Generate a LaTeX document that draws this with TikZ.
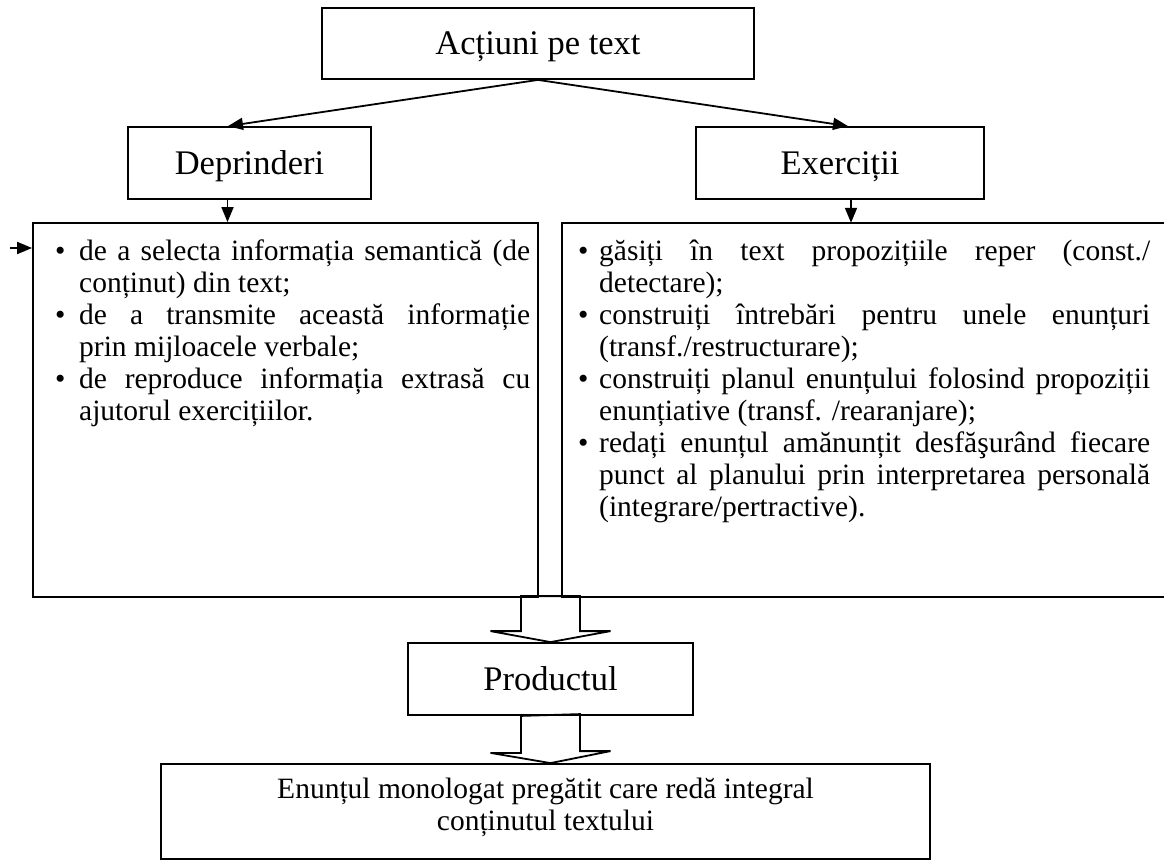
\documentclass[tikz,border=0pt]{standalone}
\usepackage{fontspec}
\setmainfont{Liberation Serif}
\usetikzlibrary{arrows.meta,calc}

% bulleted list with the bullet flush left in its label box
\newenvironment{bulletlist}[1]{%
  \begin{list}{\textbullet}{%
    \setlength{\leftmargin}{#1}\setlength{\labelwidth}{#1}%
    \setlength{\labelsep}{0pt}\setlength{\itemindent}{0pt}%
    \setlength{\itemsep}{0pt}\setlength{\parsep}{0pt}%
    \setlength{\topsep}{0pt}\setlength{\partopsep}{0pt}%
    \renewcommand{\makelabel}[1]{##1\hfil}}}%
  {\end{list}}

\hbadness=10000
\begin{document}
\begin{tikzpicture}[x=1pt,y=-1pt,
  box/.style={draw,line width=1.8pt,inner sep=0pt},
  headtext/.style={font=\fontsize{34.5}{40}\selectfont,text height=26pt,text depth=3pt},
  bodytext/.style={font=\fontsize{29.5}{32}\selectfont},
  conn/.style={line width=1.8pt,-{Triangle[length=15pt,width=12pt]}},
  blockarrow/.style={line width=1.8pt,line join=miter}]
\useasboundingbox (0,0) rectangle (1164,861);
\fill[white] (0,0) rectangle (1164,861);

% header boxes
\node[box,headtext,minimum width=432pt,minimum height=71pt] (actiuni) at (538,43.5) {Acțiuni pe text};
\node[box,headtext,minimum width=243pt,minimum height=72pt] (dep) at (249.5,163) {Deprinderi};
\node[box,headtext,minimum width=288pt,minimum height=72pt] (ex) at (840,163) {Exerciții};

% content frames
\node[box,minimum width=505pt,minimum height=374pt] (lbox) at (285.5,410) {};
\node[inner sep=0pt,minimum width=602pt,minimum height=374pt] (rbox) at (863,410) {};
\draw[line width=1.8pt] (rbox.north east) -- (rbox.north west) -- (rbox.south west) -- (rbox.south east);

% list texts
\node[inner sep=0pt,anchor=base west,bodytext] (ltext) at (55,260) {%
\begin{minipage}[t]{475pt}
\begin{bulletlist}{24pt}
\item de a selecta informația semantică (de\linebreak conținut) din text;
\item de a transmite această informație\linebreak prin mijloacele verbale;
\item de reproduce informația extrasă cu\linebreak ajutorul exercițiilor.
\end{bulletlist}
\end{minipage}};

\node[inner sep=0pt,anchor=base west,bodytext] (rtext) at (578,260) {%
\begin{minipage}[t]{572pt}
\begin{bulletlist}{21pt}
\item găsiți în text propozițiile reper (const./\linebreak detectare);
\item construiți întrebări pentru unele enunțuri\linebreak (transf./restructurare);
\item construiți planul enunțului folosind propoziții\linebreak enunțiative (transf. /rearanjare);
\item redați enunțul amănunțit desfăşurând fiecare\linebreak punct al planului prin interpretarea personală\linebreak (integrare/pertractive).
\end{bulletlist}
\end{minipage}};

% result boxes
\node[box,headtext,minimum width=285pt,minimum height=72pt] (prod) at (550.5,679) {Productul};
\node[box,minimum width=769pt,minimum height=95pt] (enunt) at (545.5,811.5) {};
\node[bodytext,align=center,inner sep=0pt] (enunttext) at (545.5,807)
  {Enunțul monologat pregătit care redă integral\\conținutul textului};

% thin connectors
\draw[conn] (actiuni.south) -- ($(dep.north)+(-21.5,0)$);
\draw[conn] (actiuni.south) -- ($(ex.north)+(8,0)$);
\coordinate (d1) at ($(dep.south)+(-22,0)$);
\draw[conn] (d1) -- (d1 |- lbox.north);
\coordinate (e1) at ($(ex.south)+(11,0)$);
\draw[conn] (e1) -- (e1 |- rbox.north);
\coordinate (lin) at (10,248);
\draw[conn] (lin) -- (lin -| lbox.west);

% hollow block arrows
\draw[blockarrow] (prod.north) ++(-29.5,-46) -- ++(0,35) -- ++(-30.5,0) -- (prod.north)
  -- ++(60,-11) -- ++(-30.5,0) -- ++(0,-35) -- cycle;
\draw[blockarrow] (prod.south) ++(-29.5,0) -- ++(0,37) -- ++(-30.5,0) -- (prod.south |- enunt.north)
  -- ++(60,-12) -- ++(-30.5,0) -- ++(0,-37) -- cycle;
\end{tikzpicture}
\end{document}
